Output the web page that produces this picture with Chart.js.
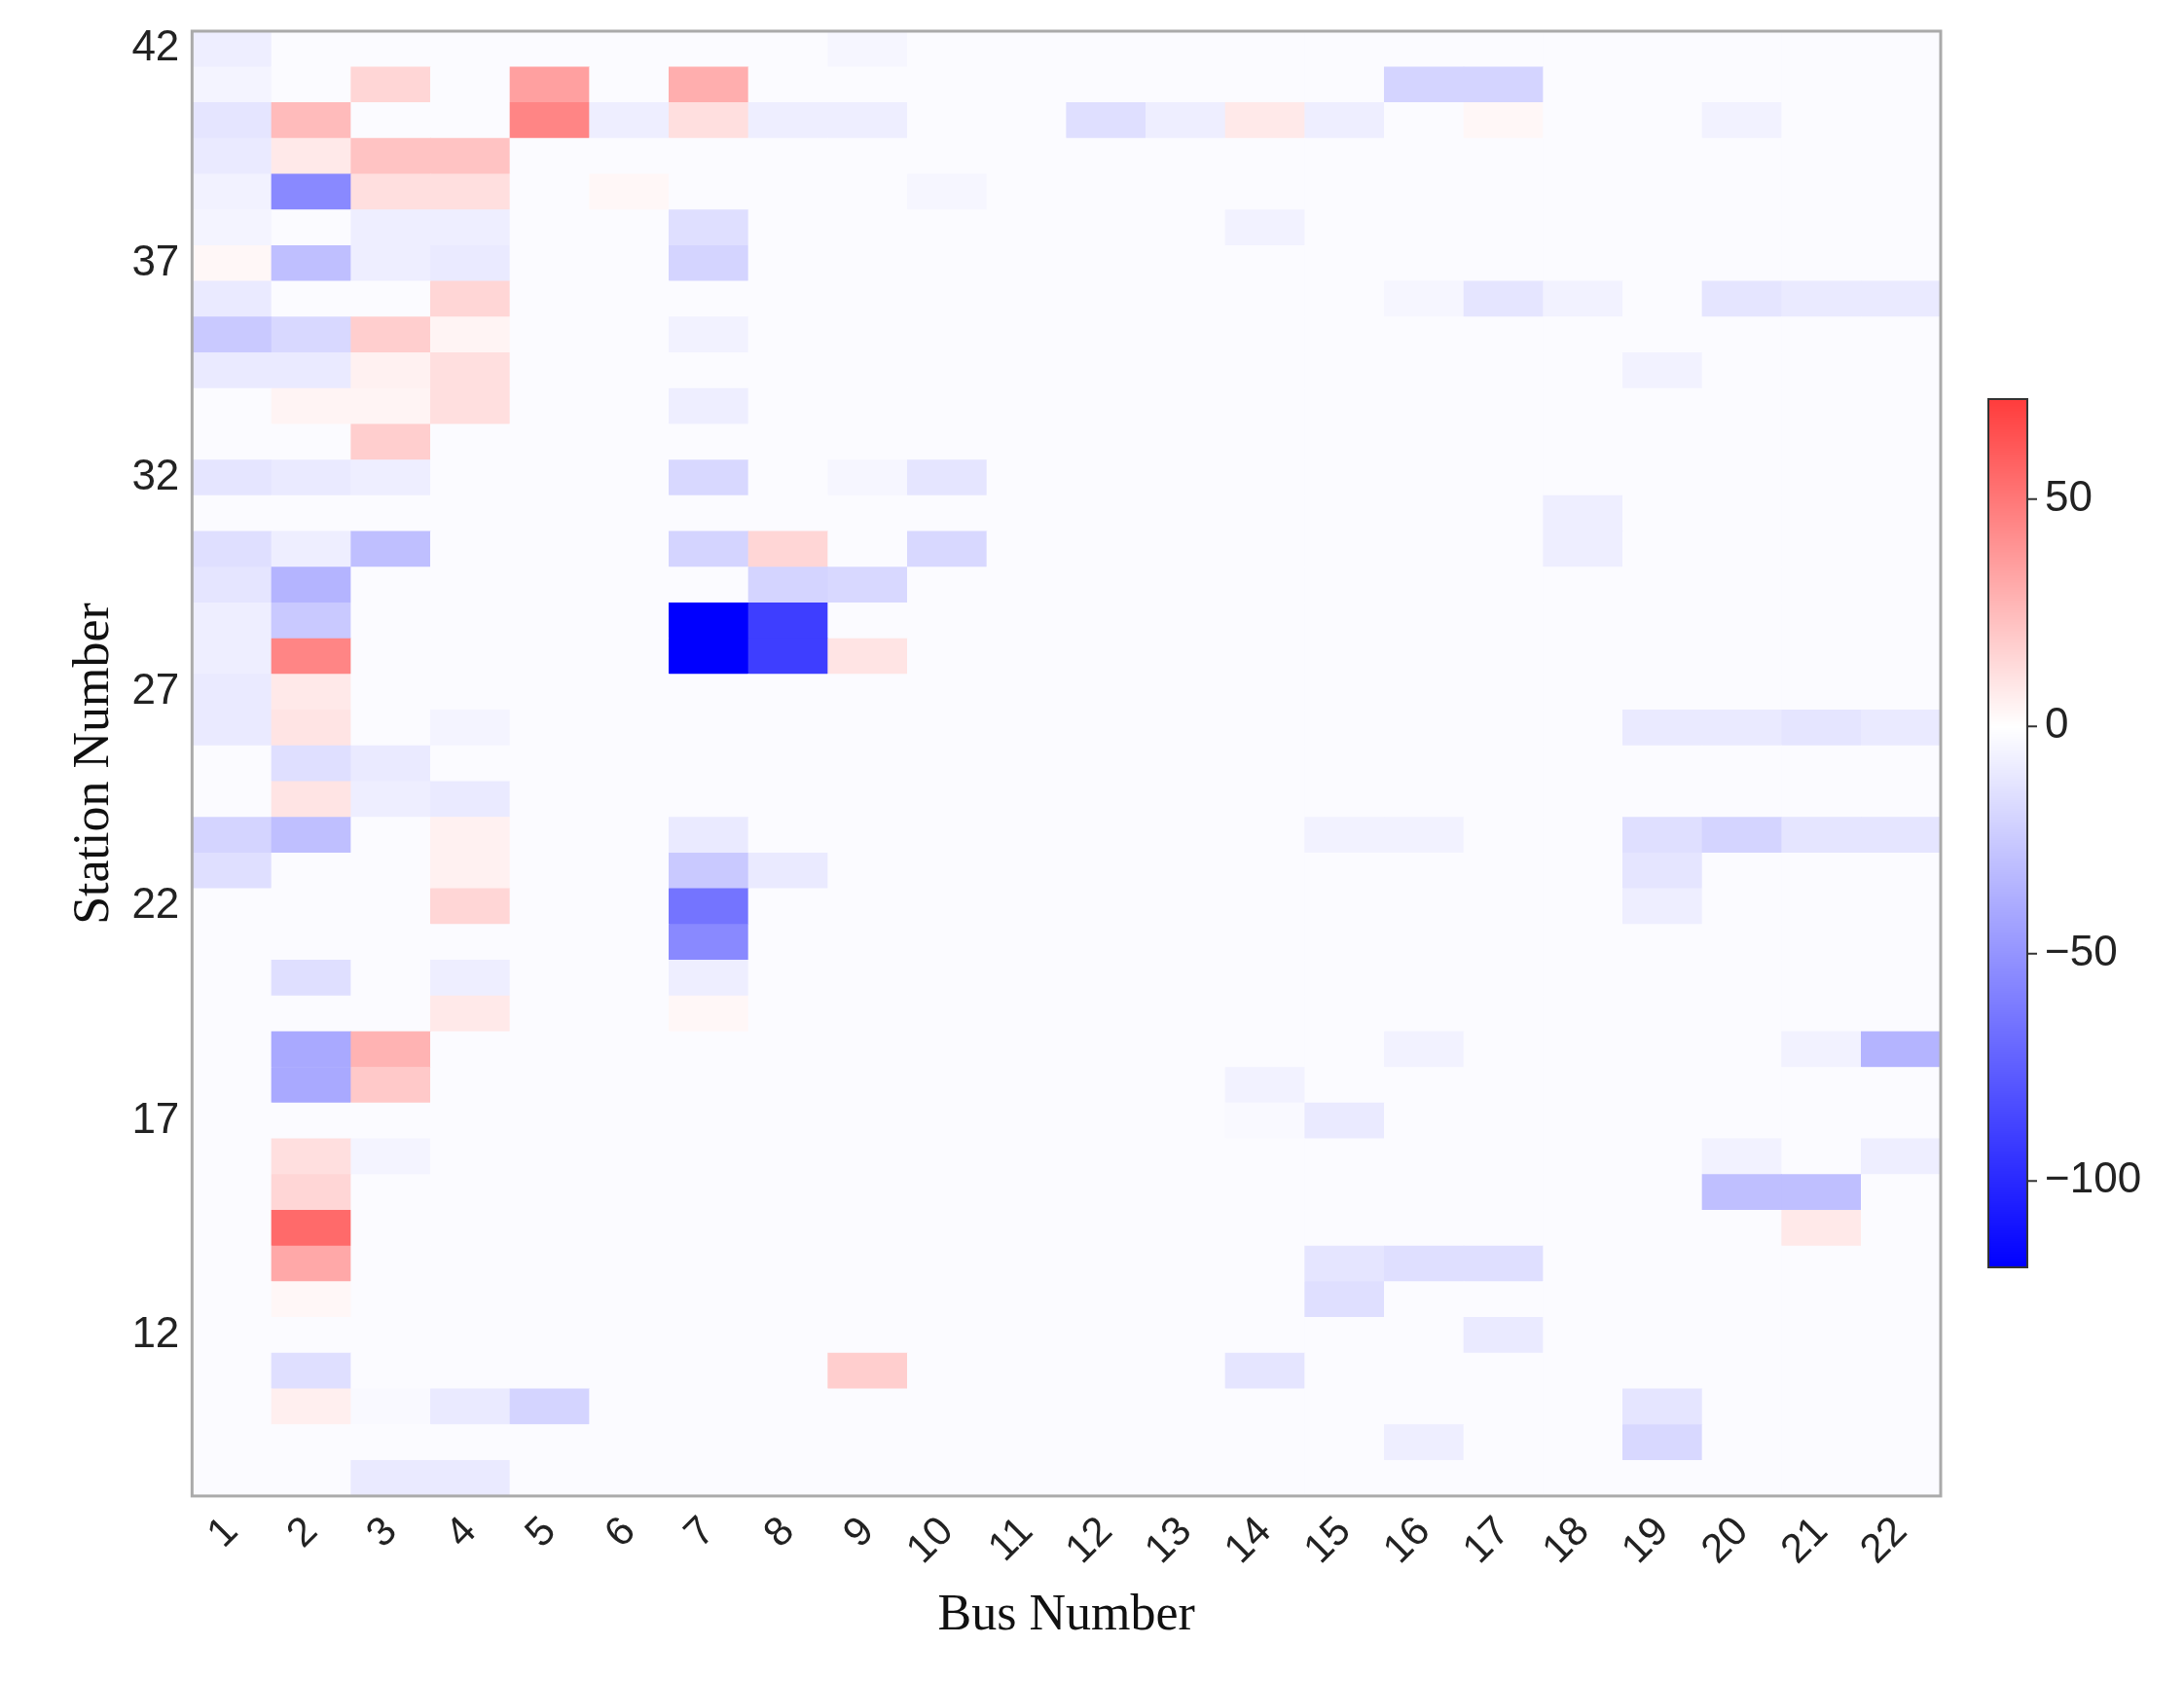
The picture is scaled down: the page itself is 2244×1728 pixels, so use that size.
<!DOCTYPE html>
<html><head><meta charset="utf-8">
<script src="https://cdn.jsdelivr.net/npm/chart.js@4"></script>
<style>html,body{margin:0;padding:0;background:#fff}#w{width:2244px;height:1728px}</style>
</head><body><div id="w"><canvas id="c"></canvas></div>
<script>
const buses = ["1","2","3","4","5","6","7","8","9","10","11","12","13","14","15","16","17","18","19","20","21","22"];
const nRows = 41; // rows from top (station 42) downward
const yTickRows = [0,6,12,18,24,30,36];
const yTickLabels = ["42","37","32","27","22","17","12"];
const cbTicks = [50,0,-50,-100];
const vMin = -119, vMax = 72;
const baseValue = -2;
// [bus, rowFromTop, value]
const cells = [
[1,0,-8],[1,1,-5],[1,2,-12],[1,3,-10],[1,4,-6],[1,5,-5],[1,6,3],[1,7,-10],[1,8,-25],[1,9,-10],[1,12,-12],[1,14,-15],[1,15,-12],[1,16,-8],[1,17,-8],[1,18,-10],[1,19,-10],[1,22,-20],[1,23,-15],
[2,2,25],[2,3,8],[2,4,-55],[2,6,-30],[2,8,-18],[2,9,-10],[2,10,4],[2,12,-10],[2,14,-8],[2,15,-35],[2,16,-25],[2,17,45],[2,18,8],[2,19,10],[2,20,-15],[2,21,10],[2,22,-30],[2,26,-15],[2,28,-40],[2,29,-40],[2,31,12],[2,32,15],[2,33,55],[2,34,32],[2,35,3],[2,37,-15],[2,38,6],
[3,1,15],[3,3,22],[3,4,12],[3,5,-8],[3,6,-8],[3,8,18],[3,9,5],[3,10,4],[3,11,18],[3,12,-8],[3,14,-30],[3,20,-10],[3,21,-8],[3,28,28],[3,29,20],[3,31,-5],[3,38,-3],[3,40,-10],
[4,3,22],[4,4,12],[4,5,-8],[4,6,-10],[4,7,15],[4,8,4],[4,9,12],[4,10,12],[4,19,-5],[4,21,-10],[4,22,5],[4,23,5],[4,24,15],[4,26,-8],[4,27,8],[4,38,-10],[4,40,-10],
[5,1,35],[5,2,45],[5,38,-20],
[6,2,-8],[6,4,3],
[7,1,30],[7,2,12],[7,5,-15],[7,6,-20],[7,8,-6],[7,10,-8],[7,12,-18],[7,14,-20],[7,16,-119],[7,17,-119],[7,22,-10],[7,23,-25],[7,24,-65],[7,25,-55],[7,26,-8],[7,27,3],
[8,2,-8],[8,14,15],[8,15,-20],[8,16,-90],[8,17,-90],[8,23,-10],
[9,0,-4],[9,2,-8],[9,12,-4],[9,15,-18],[9,17,10],[9,37,18],
[10,4,-4],[10,12,-12],[10,14,-18],
[12,2,-15],[13,2,-8],[14,2,8],[14,5,-6],[14,29,-6],[14,30,-3],[14,37,-12],
[15,2,-8],[15,22,-6],[15,30,-10],[15,34,-12],[15,35,-15],
[16,1,-20],[16,7,-4],[16,22,-6],[16,28,-6],[16,34,-15],[16,39,-8],
[17,1,-20],[17,2,3],[17,7,-12],[17,34,-15],[17,36,-10],
[18,7,-6],[18,13,-8],[18,14,-8],
[19,9,-6],[19,19,-10],[19,22,-15],[19,23,-12],[19,24,-8],[19,38,-12],[19,39,-18],
[20,2,-6],[20,7,-12],[20,19,-10],[20,22,-20],[20,31,-6],[20,32,-30],
[21,7,-10],[21,19,-12],[21,22,-12],[21,28,-6],[21,32,-30],[21,33,8],
[22,7,-10],[22,19,-10],[22,22,-12],[22,28,-35],[22,31,-8]
];
function colorOf(v){
  if(v>=0){const t=Math.min(v/vMax,1);return `rgb(255,${Math.round(255-t*195)},${Math.round(255-t*195)})`;}
  const t=Math.min(v/vMin,1);return `rgb(${Math.round(255-t*255)},${Math.round(255-t*255)},255)`;
}
const grid=[];for(let r=0;r<nRows;r++){grid.push(buses.map(()=>baseValue));}
cells.forEach(([b,r,v])=>{grid[r][b-1]=v;});
const datasets=[];
for(let r=nRows-1;r>=0;r--){
  datasets.push({data:buses.map(()=>1),backgroundColor:grid[r].map(colorOf),borderWidth:0,barPercentage:1,categoryPercentage:1});
}
const colorbar={id:'cb',afterDraw(ch){
  const ctx=ch.ctx,a=ch.chartArea;
  ctx.save();ctx.strokeStyle='#aaa';ctx.lineWidth=3;ctx.strokeRect(a.left,a.top,a.right-a.left,a.bottom-a.top);
  const x=2043,w=40,top=410,bot=1302;
  for(let y=top;y<bot;y++){const v=vMax-(y-top)/(bot-top)*(vMax-vMin);ctx.fillStyle=colorOf(v);ctx.fillRect(x,y,w,1.5);}
  ctx.strokeStyle='#333';ctx.lineWidth=2;ctx.strokeRect(x,top,w,bot-top);
  ctx.fillStyle='#222';ctx.font='44px Arial, "Liberation Sans"';ctx.textBaseline='middle';ctx.textAlign='left';
  cbTicks.forEach(t=>{const y=top+(vMax-t)/(vMax-vMin)*(bot-top);ctx.beginPath();ctx.moveTo(x+w,y);ctx.lineTo(x+w+10,y);ctx.stroke();ctx.fillText(t<0?'\u2212'+(-t):String(t),x+w+18,y);});
  ctx.restore();
}};
new Chart(document.getElementById('c'),{type:'bar',data:{labels:buses,datasets},
plugins:[colorbar],
options:{responsive:true,maintainAspectRatio:false,animation:false,
 layout:{padding:{left:62,right:250,top:32,bottom:32}},
 plugins:{legend:{display:false},tooltip:{enabled:false}},
 scales:{
  x:{stacked:true,grid:{display:false,drawTicks:true,tickLength:10},border:{color:'#999',width:3},
     ticks:{color:'#222',font:{size:42,family:'Arial'},maxRotation:45,minRotation:45,padding:2},
     title:{display:true,text:'Bus Number',color:'#111',font:{size:52,family:'"Liberation Serif", "Times New Roman", serif'},padding:{top:10}}},
  y:{stacked:true,min:0,max:nRows,grid:{display:false,tickLength:10},border:{color:'#999',width:3},
     afterBuildTicks(ax){ax.ticks=yTickRows.map(r=>({value:nRows-r-0.5}));},
     ticks:{color:'#222',font:{size:44,family:'Arial'},callback:(v)=>{const i=yTickRows.indexOf(Math.round(nRows-v-0.5));return i>=0?yTickLabels[i]:'';}},
     title:{display:true,text:'Station Number',color:'#111',font:{size:52,family:'"Liberation Serif", "Times New Roman", serif'}}}
 }}});
</script></body></html>
